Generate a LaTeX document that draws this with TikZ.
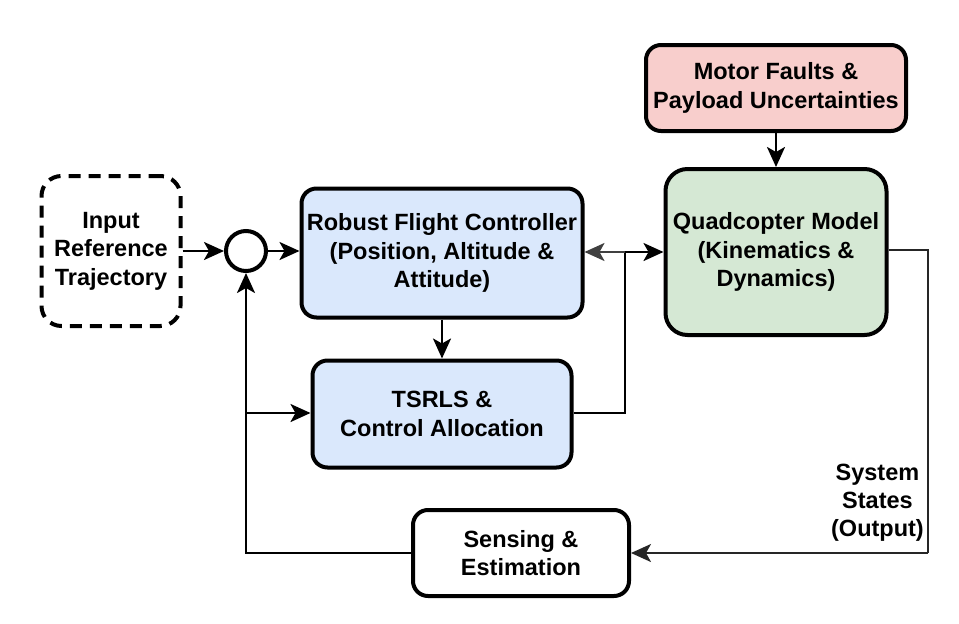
\documentclass[tikz,border=0pt]{standalone}
\usepackage{fontspec}
\setmainfont{Liberation Sans}
\usetikzlibrary{arrows.meta}
\definecolor{blueF}{HTML}{DAE8FC}
\definecolor{greenF}{HTML}{D5E8D4}
\definecolor{redF}{HTML}{F8CECC}
\begin{document}
\begin{tikzpicture}[x=1pt,y=-1pt,
  box/.style={draw=black, line width=4pt, rounded corners=15pt, align=center,
    font=\fontsize{23.5}{28.5}\selectfont\bfseries, inner sep=0pt},
  arrowtip/.style={-{Stealth[length=20pt,width=18pt,inset=5pt]}},
  conn/.style={line width=2.6pt, arrowtip},
  plain/.style={line width=2.6pt},
  thin/.style={line width=2pt, draw=black!85}]
\useasboundingbox (0,0) rectangle (959,624);
\node[box, dashed, dash pattern=on 12pt off 8pt, minimum width=139pt, minimum height=150pt, rounded corners=20pt] (in) at (111,251) {Input\\Reference\\Trajectory};
\node[draw, circle, line width=4pt, minimum size=40pt, inner sep=0pt] (sum) at (246,251) {};
\node[box, fill=blueF, minimum width=281pt, minimum height=129pt] (rfc) at (442,253) {Robust Flight Controller\\(Position, Altitude \&\\Attitude)};
\node[box, fill=blueF, minimum width=259pt, minimum height=107pt] (ts) at (442,414) {TSRLS \&\\Control Allocation};
\node[box, fill=redF, minimum width=260pt, minimum height=86pt] (mf) at (776,88) {Motor Faults \&\\Payload Uncertainties};
\node[box, fill=greenF, minimum width=221pt, minimum height=166pt, rounded corners=22pt] (qm) at (776,252) {Quadcopter Model\\(Kinematics \&\\Dynamics)};
\node[box, minimum width=216pt, minimum height=86pt] (se) at (521,553) {Sensing \&\\Estimation};
\node[align=center, anchor=east, inner sep=0pt, font=\fontsize{23.5}{28}\selectfont\bfseries] (lab) at (924,503) {System\\States\\(Output)};
\coordinate (j1) at (625,413);
\coordinate (j2) at (625,252);
\coordinate (o1) at (928,250);
\coordinate (o2) at (928,553);
\coordinate (f1) at (246,553);
\coordinate (f2) at (246,413);
\draw[conn] (in.east |- sum) -- (sum.west);
\draw[conn] (sum.east) -- (rfc.west |- sum);
\draw[conn] (mf.south) -- (qm.north);
\draw[conn] (rfc.south) -- (ts.north);
\draw[plain] (ts.east |- j1) -- (j1) -- (j2);
\draw[conn, draw=black!75] (j2) -- (rfc.east |- j2);
\draw[conn] (j2) -- (qm.west |- j2);
\draw[thin] (qm.east |- o1) -- (o1) -- (o2);
\draw[thin, arrowtip] (o2) -- (se.east |- o2);
\draw[plain] (se.west |- f1) -- (f1) -- (f2);
\draw[conn] (f2) -- (sum.south);
\draw[conn] (f2) -- (ts.west |- f2);
\end{tikzpicture}
\end{document}
